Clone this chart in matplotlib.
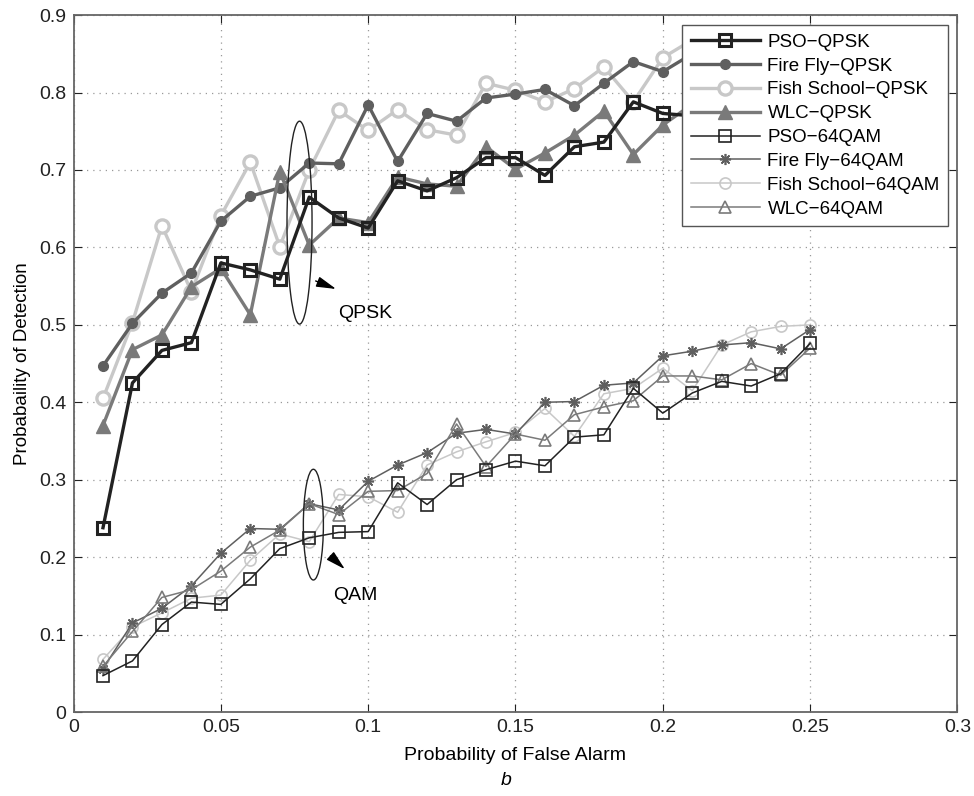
import numpy as np
import matplotlib
matplotlib.use("Agg")
from matplotlib import pyplot as plt
from matplotlib.patches import Ellipse

plt.rcParams['font.family'] = ['Liberation Sans', 'DejaVu Sans']

pfa = [0.01, 0.02, 0.03, 0.04, 0.05, 0.06, 0.07, 0.08, 0.09, 0.10,
       0.11, 0.12, 0.13, 0.14, 0.15, 0.16, 0.17, 0.18, 0.19, 0.20,
       0.21, 0.22, 0.23, 0.24, 0.25]

# QPSK curves (right end hidden behind legend in the original)
pso_qpsk = [0.238, 0.425, 0.467, 0.477, 0.580, 0.571, 0.559, 0.665, 0.638, 0.625,
            0.686, 0.673, 0.690, 0.716, 0.716, 0.693, 0.730, 0.736, 0.788, 0.773,
            0.770, 0.775, 0.780, 0.790, 0.800]
firefly_qpsk = [0.447, 0.502, 0.541, 0.567, 0.634, 0.666, 0.677, 0.709, 0.708, 0.784,
                0.711, 0.773, 0.763, 0.793, 0.798, 0.804, 0.783, 0.812, 0.840, 0.827,
                0.850, 0.852, 0.855, 0.858, 0.860]
fish_qpsk = [0.405, 0.503, 0.628, 0.543, 0.641, 0.710, 0.601, 0.700, 0.777, 0.751,
             0.778, 0.752, 0.745, 0.812, 0.803, 0.788, 0.805, 0.833, 0.788, 0.845,
             0.868, 0.870, 0.872, 0.873, 0.873]
wlc_qpsk = [0.370, 0.468, 0.487, 0.549, 0.573, 0.513, 0.698, 0.603, 0.638, 0.632,
            0.691, 0.682, 0.679, 0.730, 0.701, 0.722, 0.745, 0.776, 0.720, 0.758,
            0.785, 0.790, 0.795, 0.800, 0.810]

# 64QAM curves
pso_qam = [0.047, 0.066, 0.113, 0.142, 0.139, 0.172, 0.211, 0.225, 0.232, 0.233,
           0.296, 0.268, 0.300, 0.313, 0.324, 0.318, 0.355, 0.358, 0.418, 0.386,
           0.412, 0.427, 0.421, 0.437, 0.476]
firefly_qam = [0.056, 0.115, 0.134, 0.163, 0.205, 0.237, 0.236, 0.269, 0.261, 0.298,
               0.319, 0.335, 0.360, 0.365, 0.359, 0.400, 0.401, 0.422, 0.425, 0.460,
               0.466, 0.474, 0.477, 0.469, 0.494]
fish_qam = [0.068, 0.110, 0.128, 0.147, 0.151, 0.196, 0.230, 0.220, 0.281, 0.278,
            0.258, 0.319, 0.336, 0.349, 0.361, 0.392, 0.356, 0.411, 0.418, 0.444,
            0.415, 0.474, 0.491, 0.498, 0.500]
wlc_qam = [0.059, 0.104, 0.148, 0.158, 0.182, 0.213, 0.235, 0.269, 0.255, 0.285,
           0.286, 0.308, 0.372, 0.317, 0.359, 0.351, 0.384, 0.394, 0.402, 0.434,
           0.434, 0.429, 0.450, 0.435, 0.470]

c_pso = '#222222'
c_ff = '#5f5f5f'
c_fish = '#c8c8c8'
c_wlc = '#7a7a7a'

fig = plt.figure(figsize=(9.74, 7.96), dpi=100)
ax = fig.add_axes([0.0755, 0.1055, 0.9075, 0.8755])

ax.plot(pfa, pso_qpsk, color=c_pso, lw=2.4, marker='s', ms=8, mfc='none', mec=c_pso, mew=2.2, label='PSO\u2212QPSK', zorder=5)
ax.plot(pfa, firefly_qpsk, color=c_ff, lw=2.4, marker='o', ms=7, mfc=c_ff, mec=c_ff, label='Fire Fly\u2212QPSK', zorder=4)
ax.plot(pfa, fish_qpsk, color=c_fish, lw=2.4, marker='o', ms=9.5, mfc='white', mec=c_fish, mew=2.4, label='Fish School\u2212QPSK', zorder=3)
ax.plot(pfa, wlc_qpsk, color=c_wlc, lw=2.4, marker='^', ms=10.5, mfc=c_wlc, mec=c_wlc, label='WLC\u2212QPSK', zorder=4)
ax.plot(pfa, pso_qam, color=c_pso, lw=1.1, marker='s', ms=8, mfc='none', mec=c_pso, mew=1.2, label='PSO\u221264QAM', zorder=5)
ax.plot(pfa, firefly_qam, color=c_ff, lw=1.1, marker=(8, 2, 0), ms=8, mfc=c_ff, mec=c_ff, mew=1.2, label='Fire Fly\u221264QAM', zorder=4)
ax.plot(pfa, fish_qam, color=c_fish, lw=1.1, marker='o', ms=8, mfc='none', mec=c_fish, mew=1.2, label='Fish School\u221264QAM', zorder=3)
ax.plot(pfa, wlc_qam, color=c_wlc, lw=1.1, marker='^', ms=9, mfc='none', mec=c_wlc, mew=1.2, label='WLC\u221264QAM', zorder=4)

ax.set_xlim(0, 0.3)
ax.set_ylim(0, 0.9)
ax.set_xticks([0, 0.05, 0.1, 0.15, 0.2, 0.25, 0.3])
ax.set_xticklabels(['0', '0.05', '0.1', '0.15', '0.2', '0.25', '0.3'])
ax.set_yticks([0, 0.1, 0.2, 0.3, 0.4, 0.5, 0.6, 0.7, 0.8, 0.9])
ax.set_yticklabels(['0', '0.1', '0.2', '0.3', '0.4', '0.5', '0.6', '0.7', '0.8', '0.9'])
ax.grid(True, linestyle=(0, (1, 4)), color='#999999', lw=0.9)
ax.tick_params(direction='in', length=6, top=True, right=True, labelsize=14, colors='#222222', pad=5)
for s in ax.spines.values():
    s.set_color('#666666')
    s.set_linewidth(1.3)

ax.set_xlabel('Probability of False Alarm', fontsize=14, labelpad=8)
ax.set_ylabel('Probabaility of Detection', fontsize=13.5, labelpad=6)
fig.text(0.52, 0.019, 'b', fontsize=14, style='italic', ha='center', va='center')

# annotation ellipses
ax.add_patch(Ellipse((0.0767, 0.632), 0.0085, 0.262, fill=False, ec='#222222', lw=1.0, zorder=6))
ax.add_patch(Ellipse((0.0814, 0.242), 0.0068, 0.143, fill=False, ec='#222222', lw=1.0, zorder=6))
ax.annotate('', xy=(0.0900, 0.545), xytext=(0.0813, 0.558),
            arrowprops=dict(arrowstyle='-|>,head_length=1.2,head_width=0.32', color='black', lw=1.0))
ax.annotate('', xy=(0.0928, 0.182), xytext=(0.0865, 0.204),
            arrowprops=dict(arrowstyle='-|>,head_length=1.2,head_width=0.32', color='black', lw=1.0))
ax.text(0.0989, 0.515, 'QPSK', fontsize=14, ha='center', va='center')
ax.text(0.0957, 0.151, 'QAM', fontsize=14, ha='center', va='center')

leg = ax.legend(loc='upper right', bbox_to_anchor=(0.9895, 0.9857), borderaxespad=0,
                fontsize=13.5, fancybox=False, framealpha=1, edgecolor='#555555',
                handlelength=3.7, labelspacing=0.36, borderpad=0.45, handletextpad=0.4)
leg.get_frame().set_linewidth(1.0)
leg.set_zorder(10)

fig.savefig('out.png', dpi=100)
